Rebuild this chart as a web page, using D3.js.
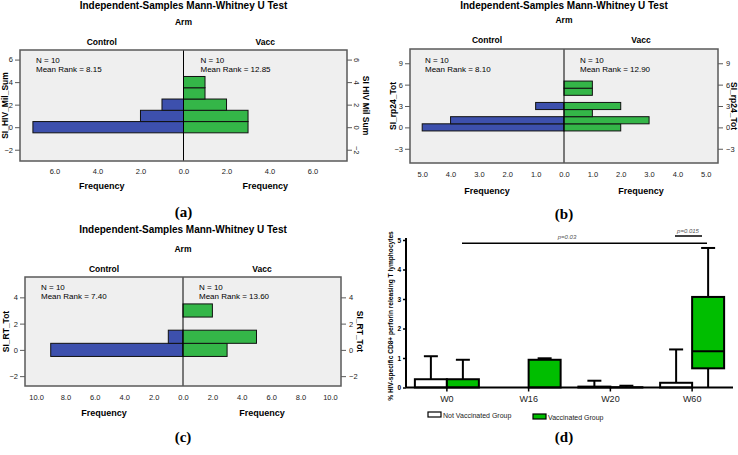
<!DOCTYPE html>
<html><head><meta charset="utf-8">
<script src="https://cdn.jsdelivr.net/npm/d3@7"></script>
<style>body{margin:0;background:#fff;} svg{display:block;font-family:"Liberation Sans",Arial,sans-serif;}</style>
</head><body><svg id="c" width="738" height="455"></svg>
<script>
// ---------- shared ----------
const arms = ["Control", "Vacc"];
const testTitle = "Independent-Samples Mann-Whitney U Test";
const groupVar = "Arm";

// ---------- panel (a) ----------
const aBinLo = [-0.5, 0.5, 1.5, 2.5, 3.5];
const aBinHi = [0.5, 1.5, 2.5, 3.5, 4.5];
const aControl = [7, 2, 1, 0, 0];
const aVacc = [3, 3, 2, 1, 1];
const aYTicks = [-2, 0, 2, 4, 6];
const aXTicks = [0, 2, 4, 6];
const aN = [10, 10];
const aMeanRank = ["8.15", "12.85"];
const aVarLeft = "SI_HIV_Mil_Sum";
const aVarRight = "SI HIV Mil Sum";

// ---------- panel (b) ----------
const bBinLo = [-0.5, 0.5, 1.5, 2.5, 4.5, 5.5];
const bBinHi = [0.5, 1.5, 2.5, 3.5, 5.5, 6.5];
const bControl = [5, 4, 0, 1, 0, 0];
const bVacc = [2, 3, 1, 2, 1, 1];
const bYTicks = [-3, 0, 3, 6, 9];
const bXTicks = [0, 1, 2, 3, 4, 5];
const bN = [10, 10];
const bMeanRank = ["8.10", "12.90"];
const bVarLeft = "SI_rp24_Tot";
const bVarRight = "SI_rp24_Tot";

// ---------- panel (c) ----------
const cBinLo = [-0.5, 0.5, 2.5];
const cBinHi = [0.5, 1.5, 3.5];
const cControl = [9, 1, 0];
const cVacc = [3, 5, 2];
const cYTicks = [-2, 0, 2, 4];
const cXTicks = [0, 2, 4, 6, 8, 10];
const cN = [10, 10];
const cMeanRank = ["7.40", "13.60"];
const cVarLeft = "SI_RT_Tot";
const cVarRight = "SI_RT_Tot";

// ---------- panel (d) ----------
const weeks = ["W0", "W16", "W20", "W60"];
const groups = ["Not Vaccinated Group", "Vaccinated Group"];
const notMin = [0, 0, 0, 0];
const notQ1 = [0, 0, 0, 0];
const notMed = [0, 0, 0, 0];
const notQ3 = [0.28, 0, 0.03, 0.16];
const notMax = [1.06, 0, 0.23, 1.29];
const vacMin = [0, 0, 0, 0];
const vacQ1 = [0, 0, 0, 0.65];
const vacMed = [0, 0, 0, 1.23];
const vacQ3 = [0.28, 0.94, 0.01, 3.07];
const vacMax = [0.94, 0.99, 0.06, 4.73];
const dYTicks = [0, 1, 2, 3, 4, 5];
const dYLabel = "% HIV-specific CD8+ perforin releasing T lymphocytes";
const pLong = "p=0.03";
const pShort = "p=0.015";

const svg = d3.select("#c");
const BLUE = "#3d50ad", GREEN = "#34b648", FILLBG = "#efefef", FRAME = "#5a5a5a";

function pyramid(o) {
  const g = svg.append("g");
  const cx = (o.x0 + o.x1) / 2;
  const xL = d3.scaleLinear().domain([0, o.xMax]).range([cx, o.x0]);
  const xR = d3.scaleLinear().domain([0, o.xMax]).range([cx, o.x1]);
  const y = d3.scaleLinear().domain([o.yMin, o.yMax]).range([o.y1, o.y0]);

  // titles
  g.append("text").attr("x", cx).attr("y", o.tY).attr("text-anchor", "middle")
    .attr("font-size", 10).attr("font-weight", "bold").text(testTitle);
  g.append("text").attr("x", cx).attr("y", o.armY).attr("text-anchor", "middle")
    .attr("font-size", 8.5).attr("font-weight", "bold").text(groupVar);
  g.append("text").attr("x", (o.x0 + cx) / 2).attr("y", o.armsY).attr("text-anchor", "middle")
    .attr("font-size", 8.5).attr("font-weight", "bold").text(arms[0]);
  g.append("text").attr("x", (o.x1 + cx) / 2).attr("y", o.armsY).attr("text-anchor", "middle")
    .attr("font-size", 8.5).attr("font-weight", "bold").text(arms[1]);

  // frame background
  g.append("rect").attr("x", o.x0).attr("y", o.y0).attr("width", o.x1 - o.x0).attr("height", o.y1 - o.y0)
    .attr("fill", FILLBG);

  // bars
  const rows = o.lo.map((lo, i) => ({lo, hi: o.hi[i], c: o.ctrl[i], v: o.vacc[i]}));
  g.selectAll(".bc").data(rows.filter(d => d.c > 0)).join("rect")
    .attr("x", d => xL(d.c)).attr("width", d => cx - xL(d.c))
    .attr("y", d => y(d.hi)).attr("height", d => y(d.lo) - y(d.hi))
    .attr("fill", BLUE).attr("stroke", "#111").attr("stroke-width", 1);
  g.selectAll(".bv").data(rows.filter(d => d.v > 0)).join("rect")
    .attr("x", cx).attr("width", d => xR(d.v) - cx)
    .attr("y", d => y(d.hi)).attr("height", d => y(d.lo) - y(d.hi))
    .attr("fill", GREEN).attr("stroke", "#111").attr("stroke-width", 1);

  // center line
  g.append("line").attr("x1", cx).attr("x2", cx).attr("y1", o.y0).attr("y2", o.y1)
    .attr("stroke", "#000").attr("stroke-width", 1);

  // frame
  g.append("rect").attr("x", o.x0).attr("y", o.y0).attr("width", o.x1 - o.x0).attr("height", o.y1 - o.y0)
    .attr("fill", "none").attr("stroke", FRAME).attr("stroke-width", 1.5);

  // N / mean rank
  [[o.x0 + o.nDx, 0], [cx + o.vDx, 1]].forEach(([x, k]) => {
    g.append("text").attr("x", x).attr("y", o.nY).attr("font-size", 8).text("N = " + o.n[k]);
    g.append("text").attr("x", x).attr("y", o.nY + 8.5).attr("font-size", 8).text("Mean Rank = " + o.mr[k]);
  });

  // y axes
  const ya = g.append("g").attr("transform", `translate(${o.x0},0)`)
    .call(d3.axisLeft(y).tickValues(o.yTicks).tickSize(5).tickPadding(2).tickFormat(d3.format("d")));
  ya.select(".domain").remove();
  ya.selectAll("text").attr("font-size", 7.5).attr("font-family", null).attr("fill", "#222");
  ya.selectAll("line").attr("stroke", FRAME);
  const yb = g.append("g").attr("transform", `translate(${o.x1},0)`)
    .call(d3.axisRight(y).tickValues(o.yTicks).tickSize(5).tickPadding(3).tickFormat(d3.format("d")));
  yb.select(".domain").remove();
  yb.selectAll("line").attr("stroke", FRAME);
  yb.selectAll("text").attr("font-size", 7.5).attr("font-family", null).attr("fill", "#222");
  if (o.rotRight) {
    yb.selectAll("text").attr("text-anchor", "middle").attr("dy", 0)
      .attr("transform", function () { return `translate(10,0) rotate(90)`; }).attr("x", 0).attr("y", 3);
  }

  // x axes
  const fmt = d3.format(".1f");
  const xa = g.append("g").attr("transform", `translate(0,${o.y1})`)
    .call(d3.axisBottom(xL).tickValues(o.xTicks).tickSize(0).tickPadding(o.tickPad).tickFormat(fmt));
  xa.select(".domain").remove();
  xa.selectAll("text").attr("font-size", 7.5).attr("font-family", null).attr("fill", "#222");
  const xb = g.append("g").attr("transform", `translate(0,${o.y1})`)
    .call(d3.axisBottom(xR).tickValues(o.xTicks.filter(d => d > 0)).tickSize(0).tickPadding(o.tickPad).tickFormat(fmt));
  xb.select(".domain").remove();
  xb.selectAll("text").attr("font-size", 7.5).attr("font-family", null).attr("fill", "#222");

  g.append("text").attr("x", (o.x0 + cx) / 2).attr("y", o.fY).attr("text-anchor", "middle")
    .attr("font-size", 9).attr("font-weight", "bold").text("Frequency");
  g.append("text").attr("x", (o.x1 + cx) / 2).attr("y", o.fY).attr("text-anchor", "middle")
    .attr("font-size", 9).attr("font-weight", "bold").text("Frequency");

  // side labels
  const my = (o.y0 + o.y1) / 2;
  g.append("text").attr("transform", `translate(${o.lLabX},${my}) rotate(-90)`).attr("text-anchor", "middle")
    .attr("font-size", 8.5).attr("font-weight", "bold").text(o.varL);
  g.append("text").attr("transform", `translate(${o.rLabX},${my}) rotate(90)`).attr("text-anchor", "middle")
    .attr("font-size", 8.5).attr("font-weight", "bold").text(o.varR);

  // panel letter
  g.append("text").attr("x", cx).attr("y", o.letY).attr("text-anchor", "middle")
    .attr("font-family", "'Liberation Serif','Times New Roman',serif").attr("font-size", 15)
    .attr("font-weight", "bold").text(o.letter);
}

pyramid({x0: 20, x1: 347, y0: 50, y1: 161, xMax: 7.6, yMin: -3, yMax: 6.85,
  lo: aBinLo, hi: aBinHi, ctrl: aControl, vacc: aVacc, yTicks: aYTicks, xTicks: aXTicks,
  n: aN, mr: aMeanRank, varL: aVarLeft, varR: aVarRight,
  tY: 9, armY: 25, armsY: 45, nY: 63, nDx: 16, vDx: 17, tickPad: 8, fY: 189,
  lLabX: 8, rLabX: 363, letY: 217, letter: "(a)", rotRight: true});

pyramid({x0: 410, x1: 718, y0: 49, y1: 163, xMax: 5.43, yMin: -5, yMax: 11,
  lo: bBinLo, hi: bBinHi, ctrl: bControl, vacc: bVacc, yTicks: bYTicks, xTicks: bXTicks,
  n: bN, mr: bMeanRank, varL: bVarLeft, varR: bVarRight,
  tY: 9, armY: 23, armsY: 43, nY: 63, nDx: 15, vDx: 16, tickPad: 9, fY: 194,
  lLabX: 396, rLabX: 731, letY: 219, letter: "(b)", rotRight: false});

pyramid({x0: 25, x1: 341, y0: 277, y1: 386, xMax: 10.75, yMin: -2.75, yMax: 5.55,
  lo: cBinLo, hi: cBinHi, ctrl: cControl, vacc: cVacc, yTicks: cYTicks, xTicks: cXTicks,
  n: cN, mr: cMeanRank, varL: cVarLeft, varR: cVarRight,
  tY: 233, armY: 252, armsY: 272, nY: 290, nDx: 16, vDx: 16, tickPad: 9, fY: 416,
  lLabX: 9, rLabX: 357, letY: 442, letter: "(c)", rotRight: false});

// ---------- panel (d) box plot ----------
(function () {
  const g = svg.append("g");
  const x = d3.scaleBand().domain(weeks).range([406, 733]);
  const y = d3.scaleLinear().domain([0, 5]).range([387.5, 240]);
  const bw = 32, cap = 14;
  const sets = [
    {fill: "#ffffff", side: -1, mn: notMin, q1: notQ1, md: notMed, q3: notQ3, mx: notMax},
    {fill: "#00be00", side: 1, mn: vacMin, q1: vacQ1, md: vacMed, q3: vacQ3, mx: vacMax}
  ];
  sets.forEach(s => {
    const data = weeks.map((w, i) => ({w, mn: s.mn[i], q1: s.q1[i], md: s.md[i], q3: s.q3[i], mx: s.mx[i]}));
    const cxf = d => x(d.w) + x.bandwidth() / 2 + (s.side < 0 ? -bw / 2 : bw / 2);
    const bg = g.append("g");
    // whiskers
    bg.selectAll(".wu").data(data.filter(d => d.mx > d.q3)).join("line")
      .attr("x1", cxf).attr("x2", cxf).attr("y1", d => y(d.q3)).attr("y2", d => y(d.mx))
      .attr("stroke", "#000").attr("stroke-width", 2);
    bg.selectAll(".wc").data(data.filter(d => d.mx > d.q3)).join("line")
      .attr("x1", d => cxf(d) - cap / 2).attr("x2", d => cxf(d) + cap / 2)
      .attr("y1", d => y(d.mx)).attr("y2", d => y(d.mx))
      .attr("stroke", "#000").attr("stroke-width", 2);
    bg.selectAll(".wl").data(data.filter(d => d.q1 > d.mn)).join("line")
      .attr("x1", cxf).attr("x2", cxf).attr("y1", d => y(d.q1)).attr("y2", d => y(d.mn))
      .attr("stroke", "#000").attr("stroke-width", 2);
    // boxes
    bg.selectAll(".bx").data(data).join("rect")
      .attr("x", d => cxf(d) - bw / 2).attr("width", bw)
      .attr("y", d => y(d.q3)).attr("height", d => Math.max(0, y(d.q1) - y(d.q3)))
      .attr("fill", s.fill).attr("stroke", "#000").attr("stroke-width", 2);
    bg.selectAll(".md").data(data.filter(d => d.md > d.q1)).join("line")
      .attr("x1", d => cxf(d) - bw / 2).attr("x2", d => cxf(d) + bw / 2)
      .attr("y1", d => y(d.md)).attr("y2", d => y(d.md))
      .attr("stroke", "#000").attr("stroke-width", 2);
  });

  // axes
  const ya = g.append("g").attr("transform", "translate(406,0)")
    .call(d3.axisLeft(y).tickValues(dYTicks).tickSize(3).tickPadding(2).tickFormat(d3.format("d")));
  ya.select(".domain").attr("d", "M0,387.5V238").attr("stroke-width", 2);
  ya.selectAll("line").attr("stroke-width", 1.5);
  ya.selectAll("text").attr("font-size", 6.5).attr("font-weight", "bold").attr("font-family", null);
  const xa = g.append("g").attr("transform", "translate(0,387.5)")
    .call(d3.axisBottom(x).tickSize(4).tickPadding(4));
  xa.select(".domain").attr("d", "M406,0H733").attr("stroke-width", 2);
  xa.selectAll("line").attr("stroke-width", 1.5);
  xa.selectAll("text").attr("font-size", 9).attr("font-family", null).attr("fill", "#222");

  g.append("text").attr("transform", "translate(393,316) rotate(-90)").attr("text-anchor", "middle")
    .attr("font-size", 6.6).attr("font-weight", "bold").text(dYLabel);

  // significance bars
  g.append("line").attr("x1", 462).attr("x2", 707).attr("y1", 243.3).attr("y2", 243.3)
    .attr("stroke", "#000").attr("stroke-width", 1.5);
  g.append("text").attr("x", 567).attr("y", 239).attr("text-anchor", "middle").attr("font-size", 6)
    .attr("font-style", "italic").attr("fill", "#555").text(pLong);
  g.append("line").attr("x1", 675).attr("x2", 702).attr("y1", 236).attr("y2", 236)
    .attr("stroke", "#000").attr("stroke-width", 1.5);
  g.append("text").attr("x", 688).attr("y", 233).attr("text-anchor", "middle").attr("font-size", 6)
    .attr("font-style", "italic").attr("fill", "#555").text(pShort);

  // legend
  const leg = [{fill: "#ffffff", rx: 428, ry: 412, tx: 443, ty: 418},
               {fill: "#00be00", rx: 533, ry: 414, tx: 548, ty: 420}];
  leg.forEach((l, i) => {
    g.append("rect").attr("x", l.rx).attr("y", l.ry).attr("width", 13).attr("height", 5)
      .attr("fill", l.fill).attr("stroke", "#000").attr("stroke-width", 1.2);
    g.append("text").attr("x", l.tx).attr("y", l.ty).attr("font-size", 7).attr("fill", "#222").text(groups[i]);
  });

  g.append("text").attr("x", 564).attr("y", 442).attr("text-anchor", "middle")
    .attr("font-family", "'Liberation Serif','Times New Roman',serif").attr("font-size", 15)
    .attr("font-weight", "bold").text("(d)");
})();
</script></body></html>
